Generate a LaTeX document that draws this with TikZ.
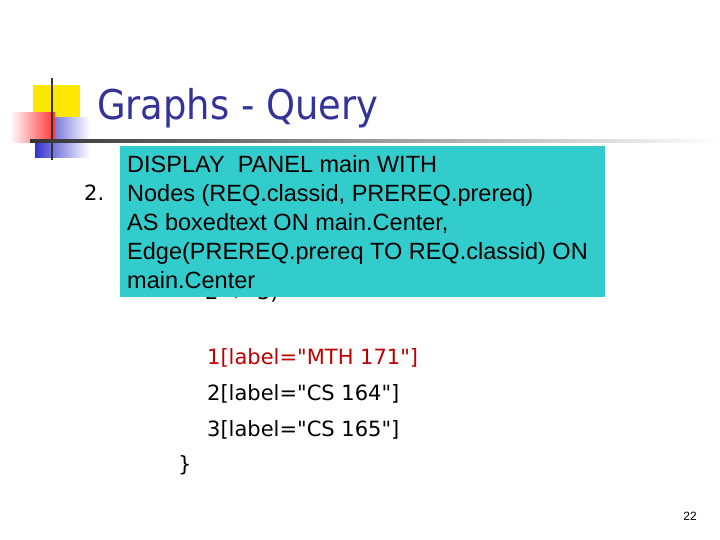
\documentclass[tikz,border=0pt]{standalone}
\usepackage{fontspec}
\setmainfont{Liberation Sans}
\newfontfamily\tfont{DejaVu Sans}
\newfontfamily\tcfont{DejaVu Sans Condensed}
\definecolor{titleblue}{RGB}{51,51,153}
\definecolor{teal}{RGB}{51,204,204}
\definecolor{codered}{RGB}{192,0,0}
\definecolor{logoblue}{RGB}{51,51,204}
\begin{document}
\begin{tikzpicture}[x=1pt,y=-1pt,
  code/.style={anchor=west,inner sep=0pt,font=\tfont\fontsize{21}{24}\selectfont},
  boxtxt/.style={anchor=north west,align=left,inner sep=0pt,font=\fontsize{23.5}{29}\selectfont}]
\useasboundingbox (0,0) rectangle (720,540);
% logo
\fill[yellow!90!orange] (33,85) rectangle (80,130);
\shade[left color=logoblue,right color=white] (35,118) rectangle (90,158);
\shade[left color=white,right color=red!80] (10,113) rectangle (55,143);
\draw[line width=1.2pt,black!80] (52,78) -- (52,160);
\shade[left color=black!80,right color=white] (30,140) rectangle (720,142.5);
% title
\node[anchor=base west,inner sep=0pt,text=titleblue,font=\tcfont\fontsize{41}{44}\selectfont] (title) at (97,120) {Graphs - Query};
% underlying text
\node[code] (n2) at (84,193) {2.};
\begin{scope}
\clip (120,297) rectangle (400,320);
\node[code] (arrow) at (205,293) {2 -> 3)};
\end{scope}
% teal box
\node[fill=teal,minimum width=485,minimum height=151,anchor=north west,inner sep=0pt] (box) at (120,146) {};
\node[boxtxt] (bt) at (127,155) {DISPLAY\ \ PANEL main WITH\\Nodes (REQ.classid, PREREQ.prereq)\\AS boxedtext ON main.Center,\\Edge(PREREQ.prereq TO REQ.classid) ON\\main.Center};
% code lines
\node[code,text=codered] (l1) at (207,358) {1[label="MTH 171"]};
\node[code] (l2) at (207,394) {2[label="CS 164"]};
\node[code] (l3) at (207,430) {3[label="CS 165"]};
\node[code] (br) at (178,465) {\}};
\node[inner sep=0pt,font=\fontsize{12}{14}\selectfont] (pg) at (690,516) {22};
\end{tikzpicture}
\end{document}
